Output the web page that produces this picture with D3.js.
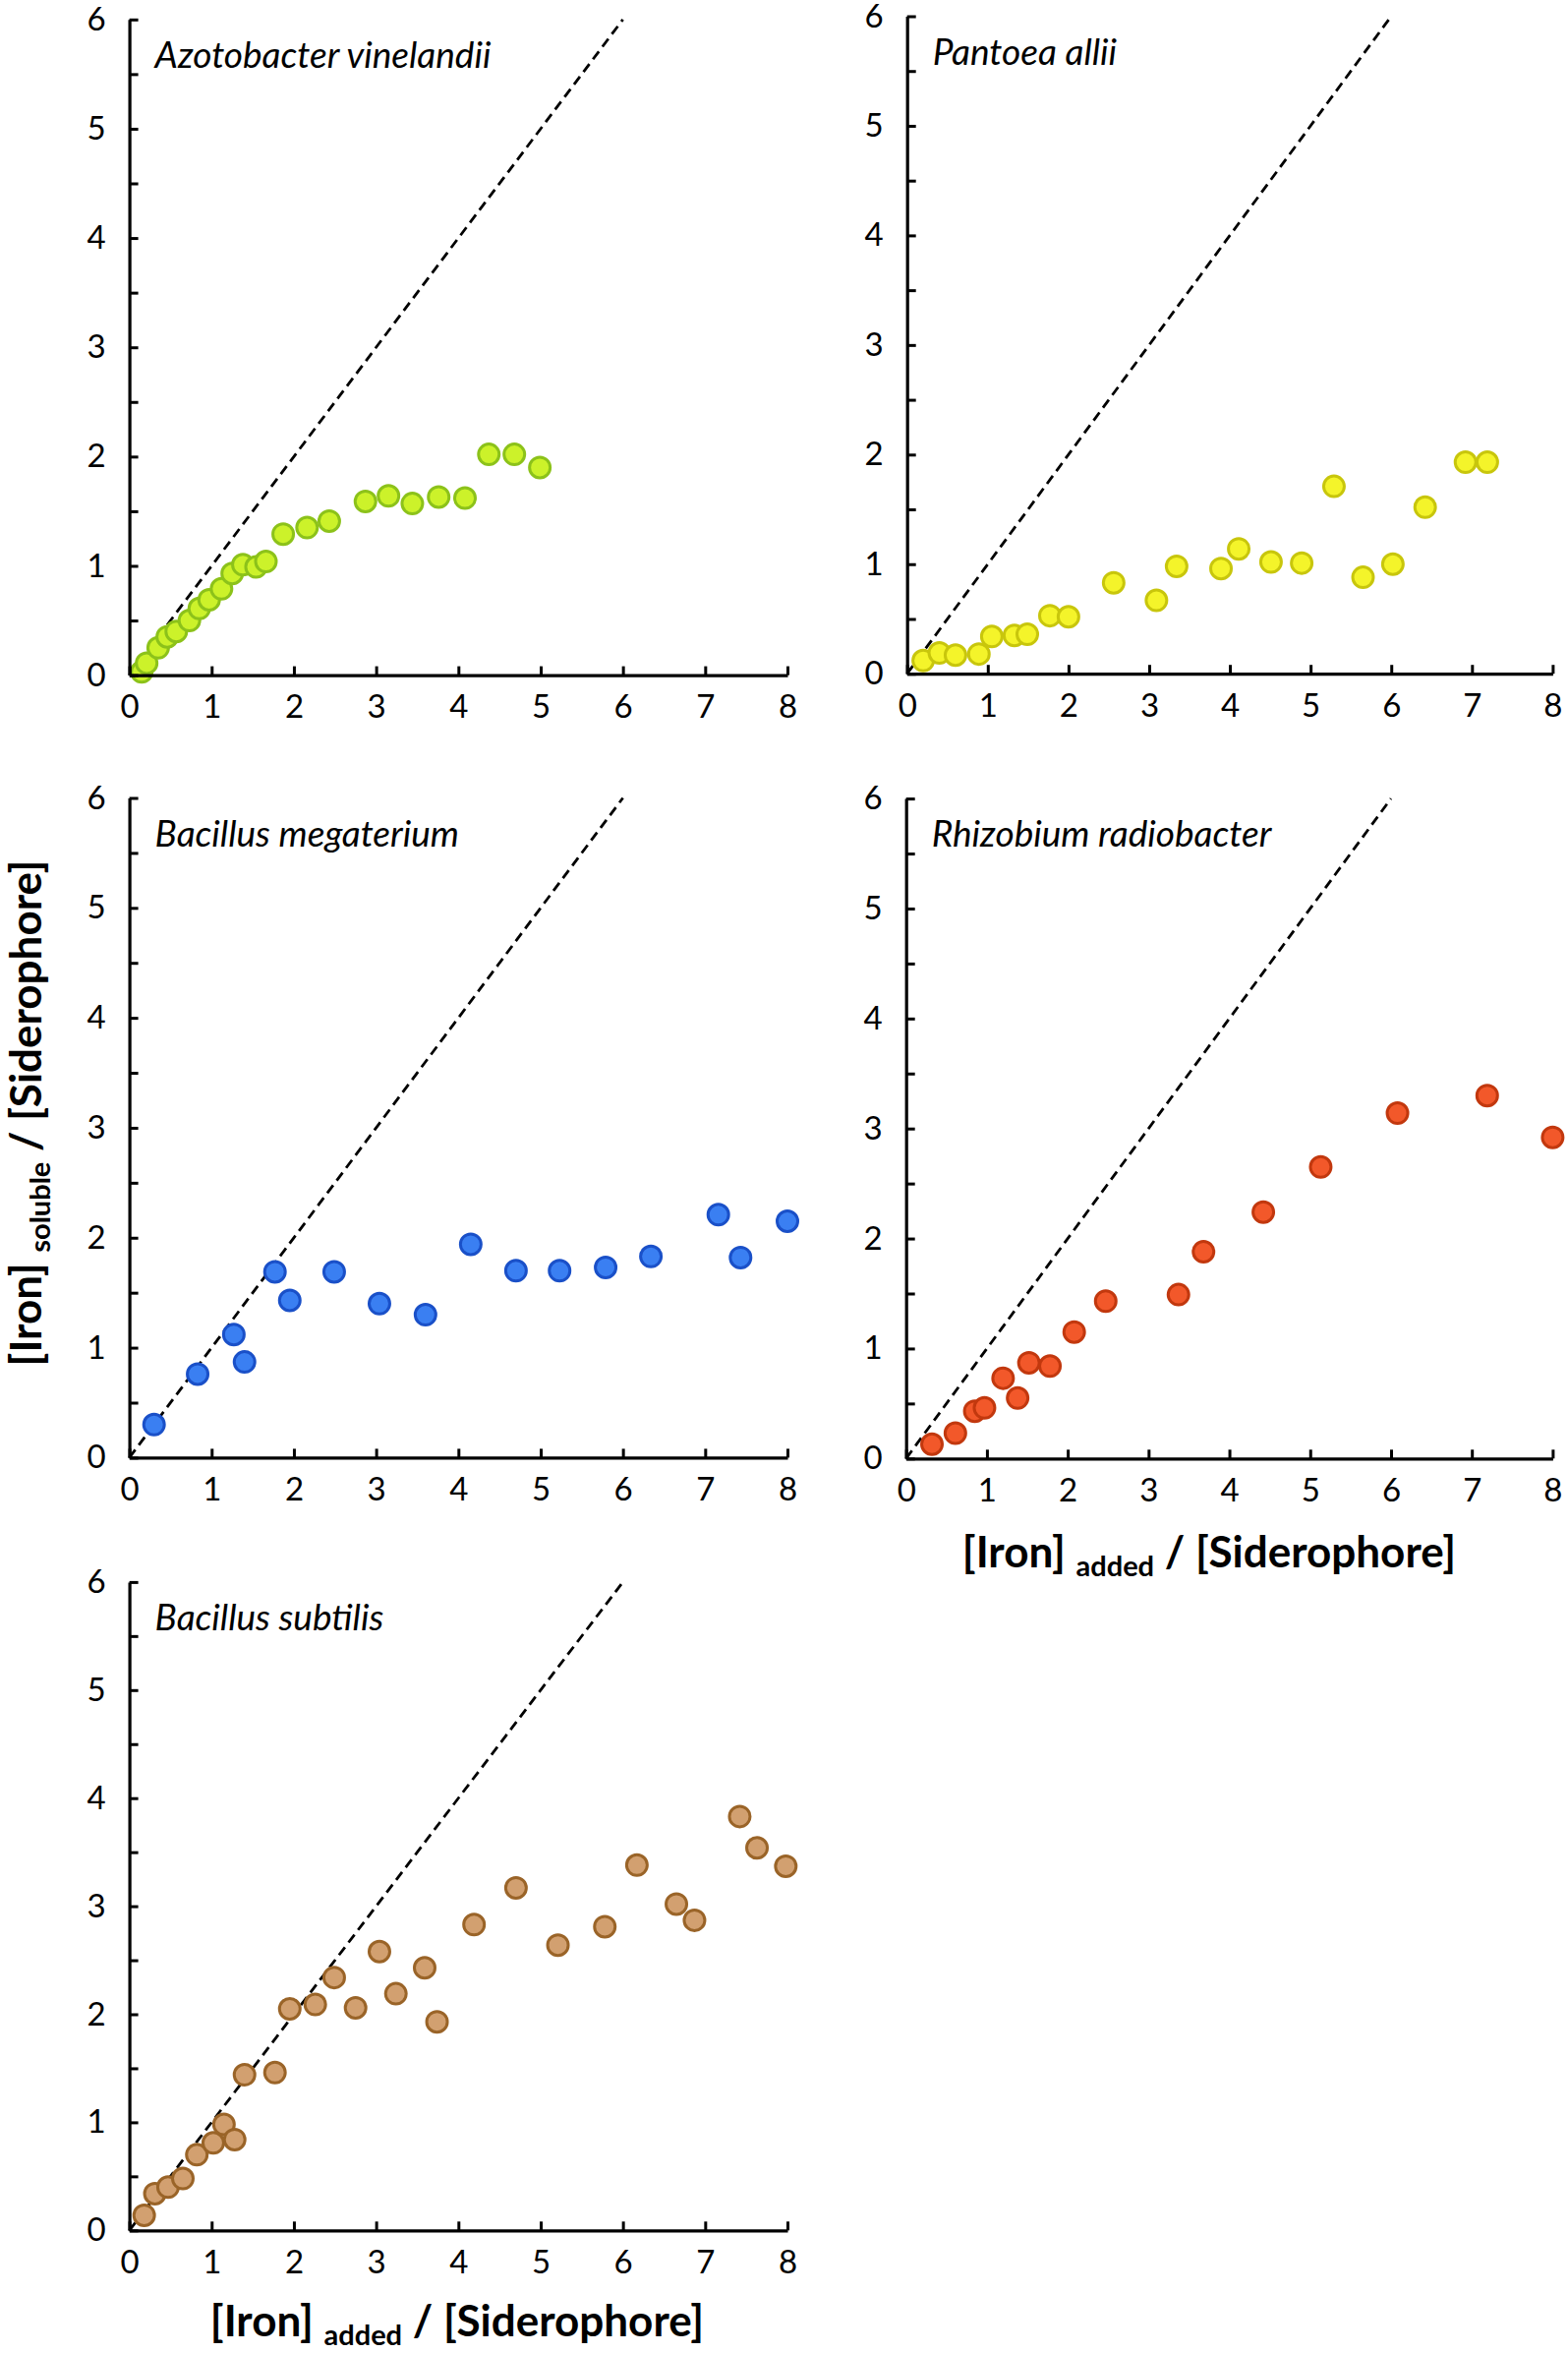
<!DOCTYPE html>
<html>
<head>
<meta charset="utf-8">
<script src="https://cdn.jsdelivr.net/npm/d3@7"></script>
<style>
  html, body { margin: 0; padding: 0; background: #fff; }
  svg { display: block; }
  text { font-family: Lato, "Open Sans", sans-serif; fill: #000; }
</style>
</head>
<body>
<svg id="chart" width="1595" height="2393"></svg>
<script>
// ---- Data ----
const species = ["Azotobacter vinelandii", "Pantoea allii", "Bacillus megaterium", "Rhizobium radiobacter", "Bacillus subtilis"];

const azotobacterX = [0.15,0.21,0.35,0.46,0.57,0.73,0.85,0.97,1.12,1.25,1.38,1.54,1.66,1.87,2.16,2.43,2.87,3.15,3.44,3.76,4.08,4.37,4.68,4.99];
const azotobacterY = [0.03,0.11,0.25,0.35,0.40,0.50,0.61,0.69,0.79,0.93,1.01,0.99,1.04,1.29,1.35,1.41,1.59,1.64,1.57,1.63,1.62,2.02,2.02,1.90];

const pantoeaX = [0.20,0.40,0.60,0.89,1.05,1.33,1.49,1.77,2.00,2.56,3.09,3.34,3.89,4.11,4.51,4.89,5.29,5.65,6.02,6.42,6.92,7.19];
const pantoeaY = [0.12,0.19,0.17,0.18,0.34,0.35,0.36,0.53,0.52,0.83,0.67,0.98,0.96,1.14,1.02,1.01,1.71,0.88,1.00,1.52,1.93,1.93];

const megateriumX = [0.30,0.83,1.27,1.40,1.77,1.95,2.49,3.04,3.60,4.15,4.70,5.23,5.79,6.34,7.16,7.43,8.00];
const megateriumY = [0.30,0.76,1.12,0.87,1.69,1.43,1.69,1.40,1.30,1.94,1.70,1.70,1.73,1.83,2.21,1.82,2.15];

const rhizobiumX = [0.32,0.61,0.85,0.97,1.20,1.38,1.52,1.78,2.08,2.47,3.37,3.68,4.42,5.13,6.08,7.19,8.00];
const rhizobiumY = [0.13,0.23,0.43,0.46,0.73,0.55,0.87,0.84,1.15,1.43,1.49,1.88,2.24,2.65,3.14,3.30,2.92];

const subtilisX = [0.18,0.31,0.47,0.65,0.82,1.02,1.15,1.28,1.40,1.77,1.95,2.26,2.49,2.75,3.04,3.24,3.59,3.74,4.19,4.70,5.21,5.78,6.17,6.65,6.87,7.42,7.63,7.98];
const subtilisY = [0.14,0.34,0.40,0.48,0.70,0.81,0.98,0.84,1.44,1.46,2.05,2.09,2.34,2.06,2.58,2.19,2.43,1.93,2.83,3.17,2.64,2.81,3.38,3.02,2.87,3.83,3.54,3.37];

const identityLine = [0, 6];           // y = x reference line, from 0 to 6
const xTickValues = [0,1,2,3,4,5,6,7,8];
const yTickValues = [0,0.5,1,1.5,2,2.5,3,3.5,4,4.5,5,5.5,6];
const xDomain = [0, 8];
const yDomain = [0, 6];

const seriesX = [azotobacterX, pantoeaX, megateriumX, rhizobiumX, subtilisX];
const seriesY = [azotobacterY, pantoeaY, megateriumY, rhizobiumY, subtilisY];

// ---- Styles / layout ----
const fills   = ["#ccf22a", "#f4f42a", "#3a7ff2", "#f2582a", "#d2a070"];
const strokes = ["#8cc21a", "#c8c60c", "#1a50c8", "#c2380e", "#9a6428"];

const panels = [
  {x0: 131.6, x1: 801,    y0: 686.6,  y1: 19.8},
  {x0: 922.7, x1: 1579.4, y0: 685.2,  y1: 16.5},
  {x0: 131.6, x1: 801,    y0: 1482.4, y1: 811.5},
  {x0: 921.7, x1: 1579.4, y0: 1483.3, y1: 812.1},
  {x0: 131.6, x1: 801,    y0: 2268.3, y1: 1608.9}
];

const svg = d3.select("#chart");

panels.forEach((p, i) => {
  const x = d3.scaleLinear().domain(xDomain).range([p.x0, p.x1]);
  const y = d3.scaleLinear().domain(yDomain).range([p.y0, p.y1]);
  const g = svg.append("g");

  // identity dashed line
  g.append("line")
    .attr("x1", x(identityLine[0])).attr("y1", y(identityLine[0]))
    .attr("x2", x(identityLine[1])).attr("y2", y(identityLine[1]))
    .attr("stroke", "#000").attr("stroke-width", 2.8)
    .attr("stroke-dasharray", "10,6");

  // points
  const pts = seriesX[i].map((v, k) => ({x: v, y: seriesY[i][k]}));
  g.selectAll("circle").data(pts).enter().append("circle")
    .attr("cx", d => x(d.x)).attr("cy", d => y(d.y))
    .attr("r", 10.5)
    .attr("fill", fills[i]).attr("stroke", strokes[i]).attr("stroke-width", 3);

  // x axis
  const xa = g.append("g").attr("transform", `translate(0,${p.y0})`)
    .call(d3.axisBottom(x).tickValues(xTickValues).tickSize(-9).tickSizeOuter(0).tickPadding(20).tickFormat(d3.format("d")));
  // y axis
  const ya = g.append("g").attr("transform", `translate(${p.x0},0)`)
    .call(d3.axisLeft(y).tickValues(yTickValues).tickSize(-9).tickSizeOuter(0).tickPadding(24)
      .tickFormat(d => Number.isInteger(d) ? d3.format("d")(d) : ""));

  [xa, ya].forEach(a => {
    a.select(".domain").attr("stroke", "#000").attr("stroke-width", 3.2);
    a.selectAll(".tick line").attr("stroke", "#000").attr("stroke-width", 3);
    a.selectAll(".tick text").attr("font-size", 33).attr("font-family", "Lato, sans-serif").attr("fill", "#000");
  });
  xa.selectAll(".tick text").attr("dy", "0.71em");

  // species label
  g.append("text")
    .attr("x", p.x0 + 26).attr("y", p.y1 + 49)
    .attr("font-size", 37).attr("font-style", "italic")
    .text(species[i]);
});

// axis titles
function xTitle(cx, baseY) {
  const t = svg.append("text").attr("x", cx).attr("y", baseY)
    .attr("text-anchor", "middle").attr("font-weight", "bold").attr("font-size", 44);
  t.append("tspan").text("[Iron] ");
  t.append("tspan").attr("font-size", 29).attr("dy", 9).text("added");
  t.append("tspan").attr("dy", -9).text(" / [Siderophore]");
}
xTitle(1230, 1594);
xTitle(465, 2376);

const yt = svg.append("text")
  .attr("transform", "translate(42,1132) rotate(-90)")
  .attr("text-anchor", "middle").attr("font-weight", "bold").attr("font-size", 44);
yt.append("tspan").text("[Iron] ");
yt.append("tspan").attr("font-size", 29).attr("dy", 9).text("soluble");
yt.append("tspan").attr("dy", -9).text(" / [Siderophore]");
</script>
</body>
</html>
